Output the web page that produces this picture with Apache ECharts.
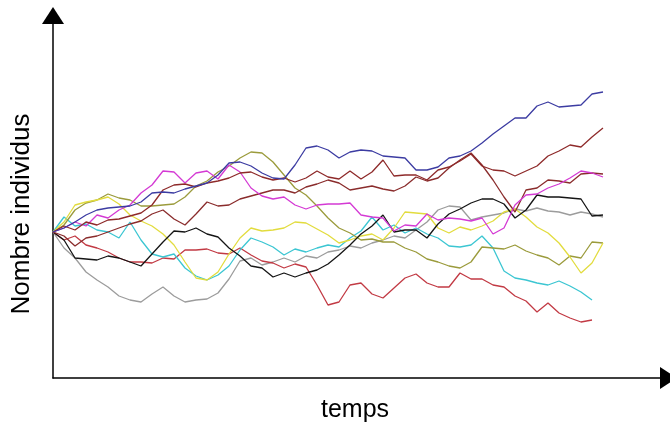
<!DOCTYPE html>
<html>
<head>
<meta charset="utf-8">
<script src="https://cdn.jsdelivr.net/npm/echarts@6/dist/echarts.min.js"></script>
<style>
  html, body { margin: 0; padding: 0; background: #ffffff; }
  #chart { width: 670px; height: 426px; }
</style>
</head>
<body>
<div id="chart"></div>
<script>
// Population trajectories (number of individuals per time step, 51 steps)
const blue = [146,150,156,163,168,170,171,172,176,185,186,185,189,192,195,203,215,216,212,205,200,199,213,230,232,228,220,226,228,227,222,221,220,208,208,211,220,222,227,235,244,252,260,260,272,276,271,272,273,284,286];
const maroonA = [146,152,148,156,153,158,159,162,165,173,188,193,194,191,195,197,200,205,206,201,198,200,196,200,207,201,199,207,199,206,218,202,203,203,198,208,211,217,224,212,208,207,202,207,212,222,227,233,231,241,250];
const maroonC = [146,142,132,140,142,146,150,154,157,164,168,159,153,164,176,172,173,179,182,185,188,188,185,191,194,198,195,188,190,192,189,187,192,201,197,200,210,218,225,213,198,181,166,188,190,198,197,195,204,205,204];
const magenta = [146,150,156,152,163,160,168,173,185,193,207,206,195,205,207,199,213,206,190,182,179,181,173,169,173,174,174,175,163,161,160,147,153,152,164,158,160,159,157,160,144,150,173,183,184,190,194,200,207,205,201];
const olive = [146,153,168,175,178,184,180,178,172,172,173,174,181,192,197,206,212,220,226,225,216,203,190,183,172,160,150,145,138,139,136,136,130,126,119,116,112,110,116,131,130,129,133,127,123,120,113,122,120,136,135];
const yellow = [146,156,173,176,178,181,174,163,157,152,144,133,116,100,98,106,124,140,150,147,148,150,156,155,149,143,135,138,142,144,138,150,166,165,164,150,145,151,148,152,157,166,169,161,151,145,135,121,105,115,135];
const cyan = [146,161,152,154,148,146,140,156,138,124,121,124,110,102,98,103,112,128,140,136,131,123,129,126,130,133,131,140,147,161,148,153,145,150,144,140,132,131,133,142,130,107,100,98,95,93,97,92,86,78,null];
const red = [146,138,142,133,130,126,120,116,116,115,120,119,128,128,129,125,124,130,123,117,115,110,114,111,93,73,76,93,95,84,80,90,100,104,95,91,91,105,99,99,93,91,82,77,66,75,65,60,56,58,null];
const black = [146,138,120,119,118,122,120,116,112,124,136,147,146,150,144,141,130,122,112,110,101,105,101,105,108,114,123,133,144,152,163,146,148,148,140,154,164,169,175,179,179,174,160,168,183,181,181,180,179,162,163];
const gray = [146,130,120,106,98,91,82,78,76,84,91,82,76,78,79,85,99,117,120,113,116,120,116,122,120,126,128,132,130,135,138,142,140,148,156,168,172,171,158,161,163,165,169,167,170,167,166,163,166,164,161];

const yTitle = 'Nombre individus';
const xTitle = 'temps';

const trajectories = [
  { data: gray,    color: '#9c9c9c' },
  { data: red,     color: '#c23a44' },
  { data: cyan,    color: '#3cc6d2' },
  { data: olive,   color: '#9b9b3c' },
  { data: yellow,  color: '#e2dc3e' },
  { data: black,   color: '#151515' },
  { data: maroonC, color: '#8a2c2c' },
  { data: magenta, color: '#d43ad4' },
  { data: maroonA, color: '#8e2a2a' },
  { data: blue,    color: '#3c3ca2' }
];

// plot area: the x axis runs on past the last step up to its arrow
const lastStep = blue.length - 1;
const xMax = lastStep * 615.5 / 550;
const yMax = 362.5;

const chart = echarts.init(document.getElementById('chart'), null, { renderer: 'canvas' });

const axisLine = {
  show: true,
  symbol: ['none', 'triangle'],
  symbolSize: [22, 17],
  lineStyle: { color: '#000000', width: 1.5 }
};

chart.setOption({
  animation: false,
  backgroundColor: '#ffffff',
  grid: { left: 53, right: 1.5, top: 15.5, bottom: 48, containLabel: false },
  xAxis: {
    type: 'value', min: 0, max: xMax,
    axisLine: axisLine,
    axisTick: { show: false }, axisLabel: { show: false }, splitLine: { show: false }
  },
  yAxis: {
    type: 'value', min: 0, max: yMax,
    axisLine: axisLine,
    axisTick: { show: false }, axisLabel: { show: false }, splitLine: { show: false }
  },
  series: trajectories.map(t => ({
    type: 'line',
    data: t.data.map((v, i) => [i, v]),
    showSymbol: false,
    symbol: 'none',
    connectNulls: false,
    lineStyle: { color: t.color, width: 1.3 },
    emphasis: { disabled: true }
  })),
  graphic: [
    {
      type: 'text', x: 22, y: 214, rotation: Math.PI / 2,
      style: {
        text: yTitle, fill: '#000000',
        font: '26px "Liberation Sans", Arial, sans-serif',
        align: 'center', verticalAlign: 'middle',
        textAlign: 'center', textVerticalAlign: 'middle'
      }
    },
    {
      type: 'text', x: 355, y: 410,
      style: {
        text: xTitle, fill: '#000000',
        font: '25px "Liberation Sans", Arial, sans-serif',
        align: 'center', verticalAlign: 'middle',
        textAlign: 'center', textVerticalAlign: 'middle'
      }
    }
  ]
});
</script>
</body>
</html>
